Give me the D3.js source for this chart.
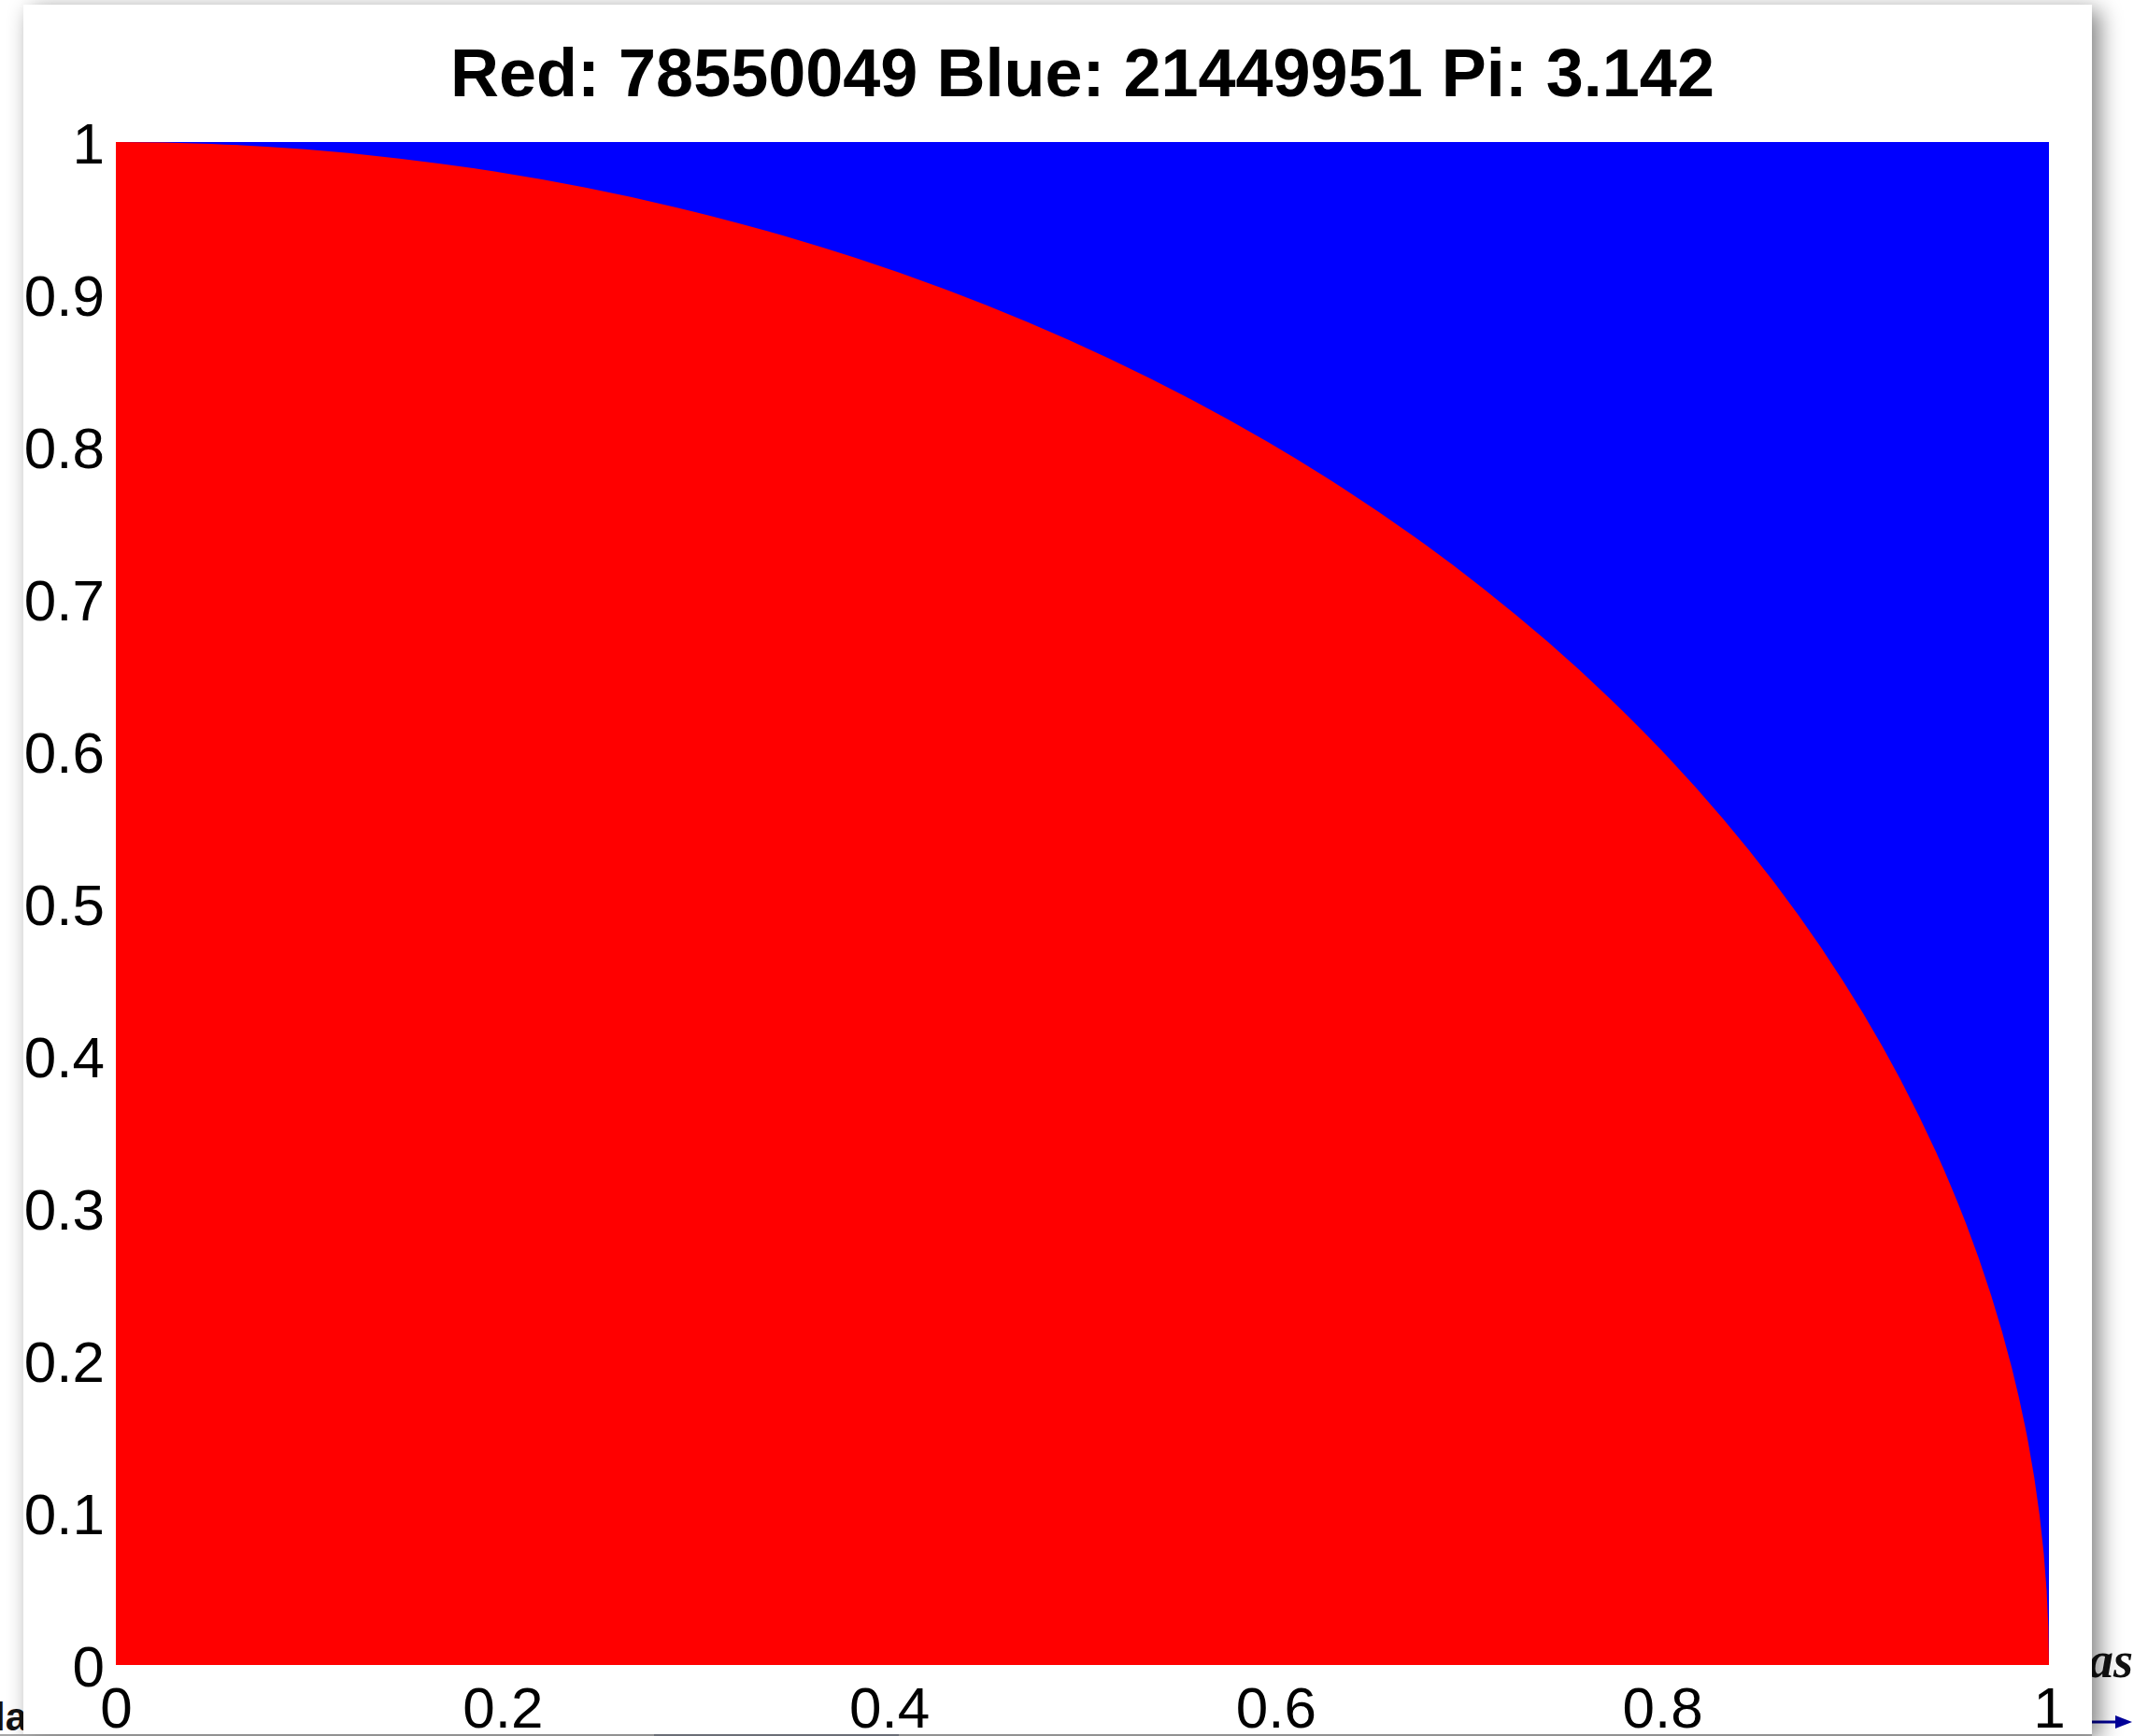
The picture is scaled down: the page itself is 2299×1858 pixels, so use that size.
<!DOCTYPE html>
<html>
<head>
<meta charset="utf-8">
<script src="https://cdn.jsdelivr.net/npm/d3@7"></script>
<style>
  html, body { margin: 0; padding: 0; background: #ffffff; }
  svg { display: block; }
</style>
</head>
<body>
<script>
// ---- data ----
const redCount = 78550049;
const blueCount = 21449951;
const xTickValues = [0, 0.2, 0.4, 0.6, 0.8, 1];
const xTickLabels = ["0", "0.2", "0.4", "0.6", "0.8", "1"];
const yTickValues = [0, 0.1, 0.2, 0.3, 0.4, 0.5, 0.6, 0.7, 0.8, 0.9, 1];
const yTickLabels = ["0", "0.1", "0.2", "0.3", "0.4", "0.5", "0.6", "0.7", "0.8", "0.9", "1"];
const xDomain = [0, 1];
const yDomain = [0, 1];
const circleRadius = [1];            // points with x²+y² <= 1 are red
const regionNames = ["Blue", "Red"];
const regionColors = ["#0000ff", "#ff0000"];

// ---- layout ----
const W = 2299, H = 1858;
const panel = {x: 25, y: 5, w: 2214, h: 1851};
const plot = {left: 124, right: 2193, top: 152, bottom: 1782};

const svg = d3.select("body").append("svg")
  .attr("width", W).attr("height", H);

const defs = svg.append("defs");
const f = defs.append("filter").attr("id", "shadow")
  .attr("x", "-5%").attr("y", "-5%").attr("width", "110%").attr("height", "110%");
f.append("feGaussianBlur").attr("in", "SourceAlpha").attr("stdDeviation", 12).attr("result", "b");
f.append("feOffset").attr("in", "b").attr("dx", 8).attr("dy", 6).attr("result", "o");
f.append("feComponentTransfer").attr("in", "o").attr("result", "o2")
  .append("feFuncA").attr("type", "linear").attr("slope", 0.5);
const fm = f.append("feMerge");
fm.append("feMergeNode").attr("in", "o2");
fm.append("feMergeNode").attr("in", "SourceGraphic");

// background page fragments
svg.append("text").attr("x", 29).attr("y", 1852).attr("text-anchor", "end")
  .attr("font-family", "Liberation Sans, Arial, sans-serif").attr("font-weight", "bold")
  .attr("font-size", 42).attr("fill", "#111").text("la");
svg.append("text").attr("x", 2283).attr("y", 1795).attr("text-anchor", "end")
  .attr("font-family", "Liberation Serif, Times New Roman, serif").attr("font-weight", "bold")
  .attr("font-style", "italic").attr("font-size", 54).attr("fill", "#111").text("as");
svg.append("line").attr("x1", 2230).attr("x2", 2268).attr("y1", 1843).attr("y2", 1843)
  .attr("stroke", "#000099").attr("stroke-width", 3);
svg.append("path").attr("d", "M2264,1836 L2282,1843 L2264,1850 Z").attr("fill", "#000099");
svg.append("rect").attr("x", 700).attr("y", 1856).attr("width", 262).attr("height", 2).attr("fill", "#1a2a5a");

// figure panel
svg.append("rect").attr("x", panel.x).attr("y", panel.y)
  .attr("width", panel.w).attr("height", panel.h)
  .attr("fill", "#ffffff").attr("filter", "url(#shadow)");
svg.append("line").attr("x1", 0).attr("x2", panel.x + panel.w).attr("y1", 1857).attr("y2", 1857)
  .attr("stroke", "#8a8a8a").attr("stroke-width", 1.5);

// scales
const x = d3.scaleLinear().domain(xDomain).range([plot.left, plot.right]);
const y = d3.scaleLinear().domain(yDomain).range([plot.bottom, plot.top]);

const g = svg.append("g");

// blue: the whole unit square
g.append("rect")
  .attr("x", x(0)).attr("y", y(1))
  .attr("width", x(1) - x(0)).attr("height", y(0) - y(1))
  .attr("fill", regionColors[0]);

// red: inside the unit quarter circle
g.selectAll("path.red").data(circleRadius).join("path")
  .attr("class", "red")
  .attr("fill", regionColors[1])
  .attr("d", r => {
    const rx = x(r) - x(0), ry = y(0) - y(r);
    return `M${x(0)},${y(0)} L${x(r)},${y(0)} A${rx},${ry} 0 0 0 ${x(0)},${y(r)} Z`;
  });

// axes (labels only)
const fontTick = "Liberation Sans, Arial, Helvetica, sans-serif";
const xAxis = d3.axisBottom(x).tickValues(xTickValues)
  .tickFormat((d, i) => xTickLabels[i]).tickSize(0).tickPadding(0);
const xa = svg.append("g").attr("transform", `translate(0,${plot.bottom})`).call(xAxis);
xa.select(".domain").remove();
xa.selectAll("text").attr("font-family", fontTick).attr("font-size", 62)
  .attr("fill", "#000").attr("dy", null).attr("y", 67);

const yAxis = d3.axisLeft(y).tickValues(yTickValues)
  .tickFormat((d, i) => yTickLabels[i]).tickSize(0).tickPadding(12);
const ya = svg.append("g").attr("transform", `translate(${plot.left},0)`).call(yAxis);
ya.select(".domain").remove();
ya.selectAll("text").attr("font-family", fontTick).attr("font-size", 62)
  .attr("fill", "#000").attr("dy", "0.36em");

// title
const piEst = 4 * redCount / (redCount + blueCount);
svg.append("text")
  .attr("x", (plot.left + plot.right) / 2).attr("y", 103)
  .attr("text-anchor", "middle")
  .attr("font-family", fontTick).attr("font-weight", "bold").attr("font-size", 72)
  .attr("fill", "#000")
  .text(`${regionNames[1]}: ${redCount} ${regionNames[0]}: ${blueCount} Pi: ${piEst.toFixed(3)}`);
</script>
</body>
</html>
